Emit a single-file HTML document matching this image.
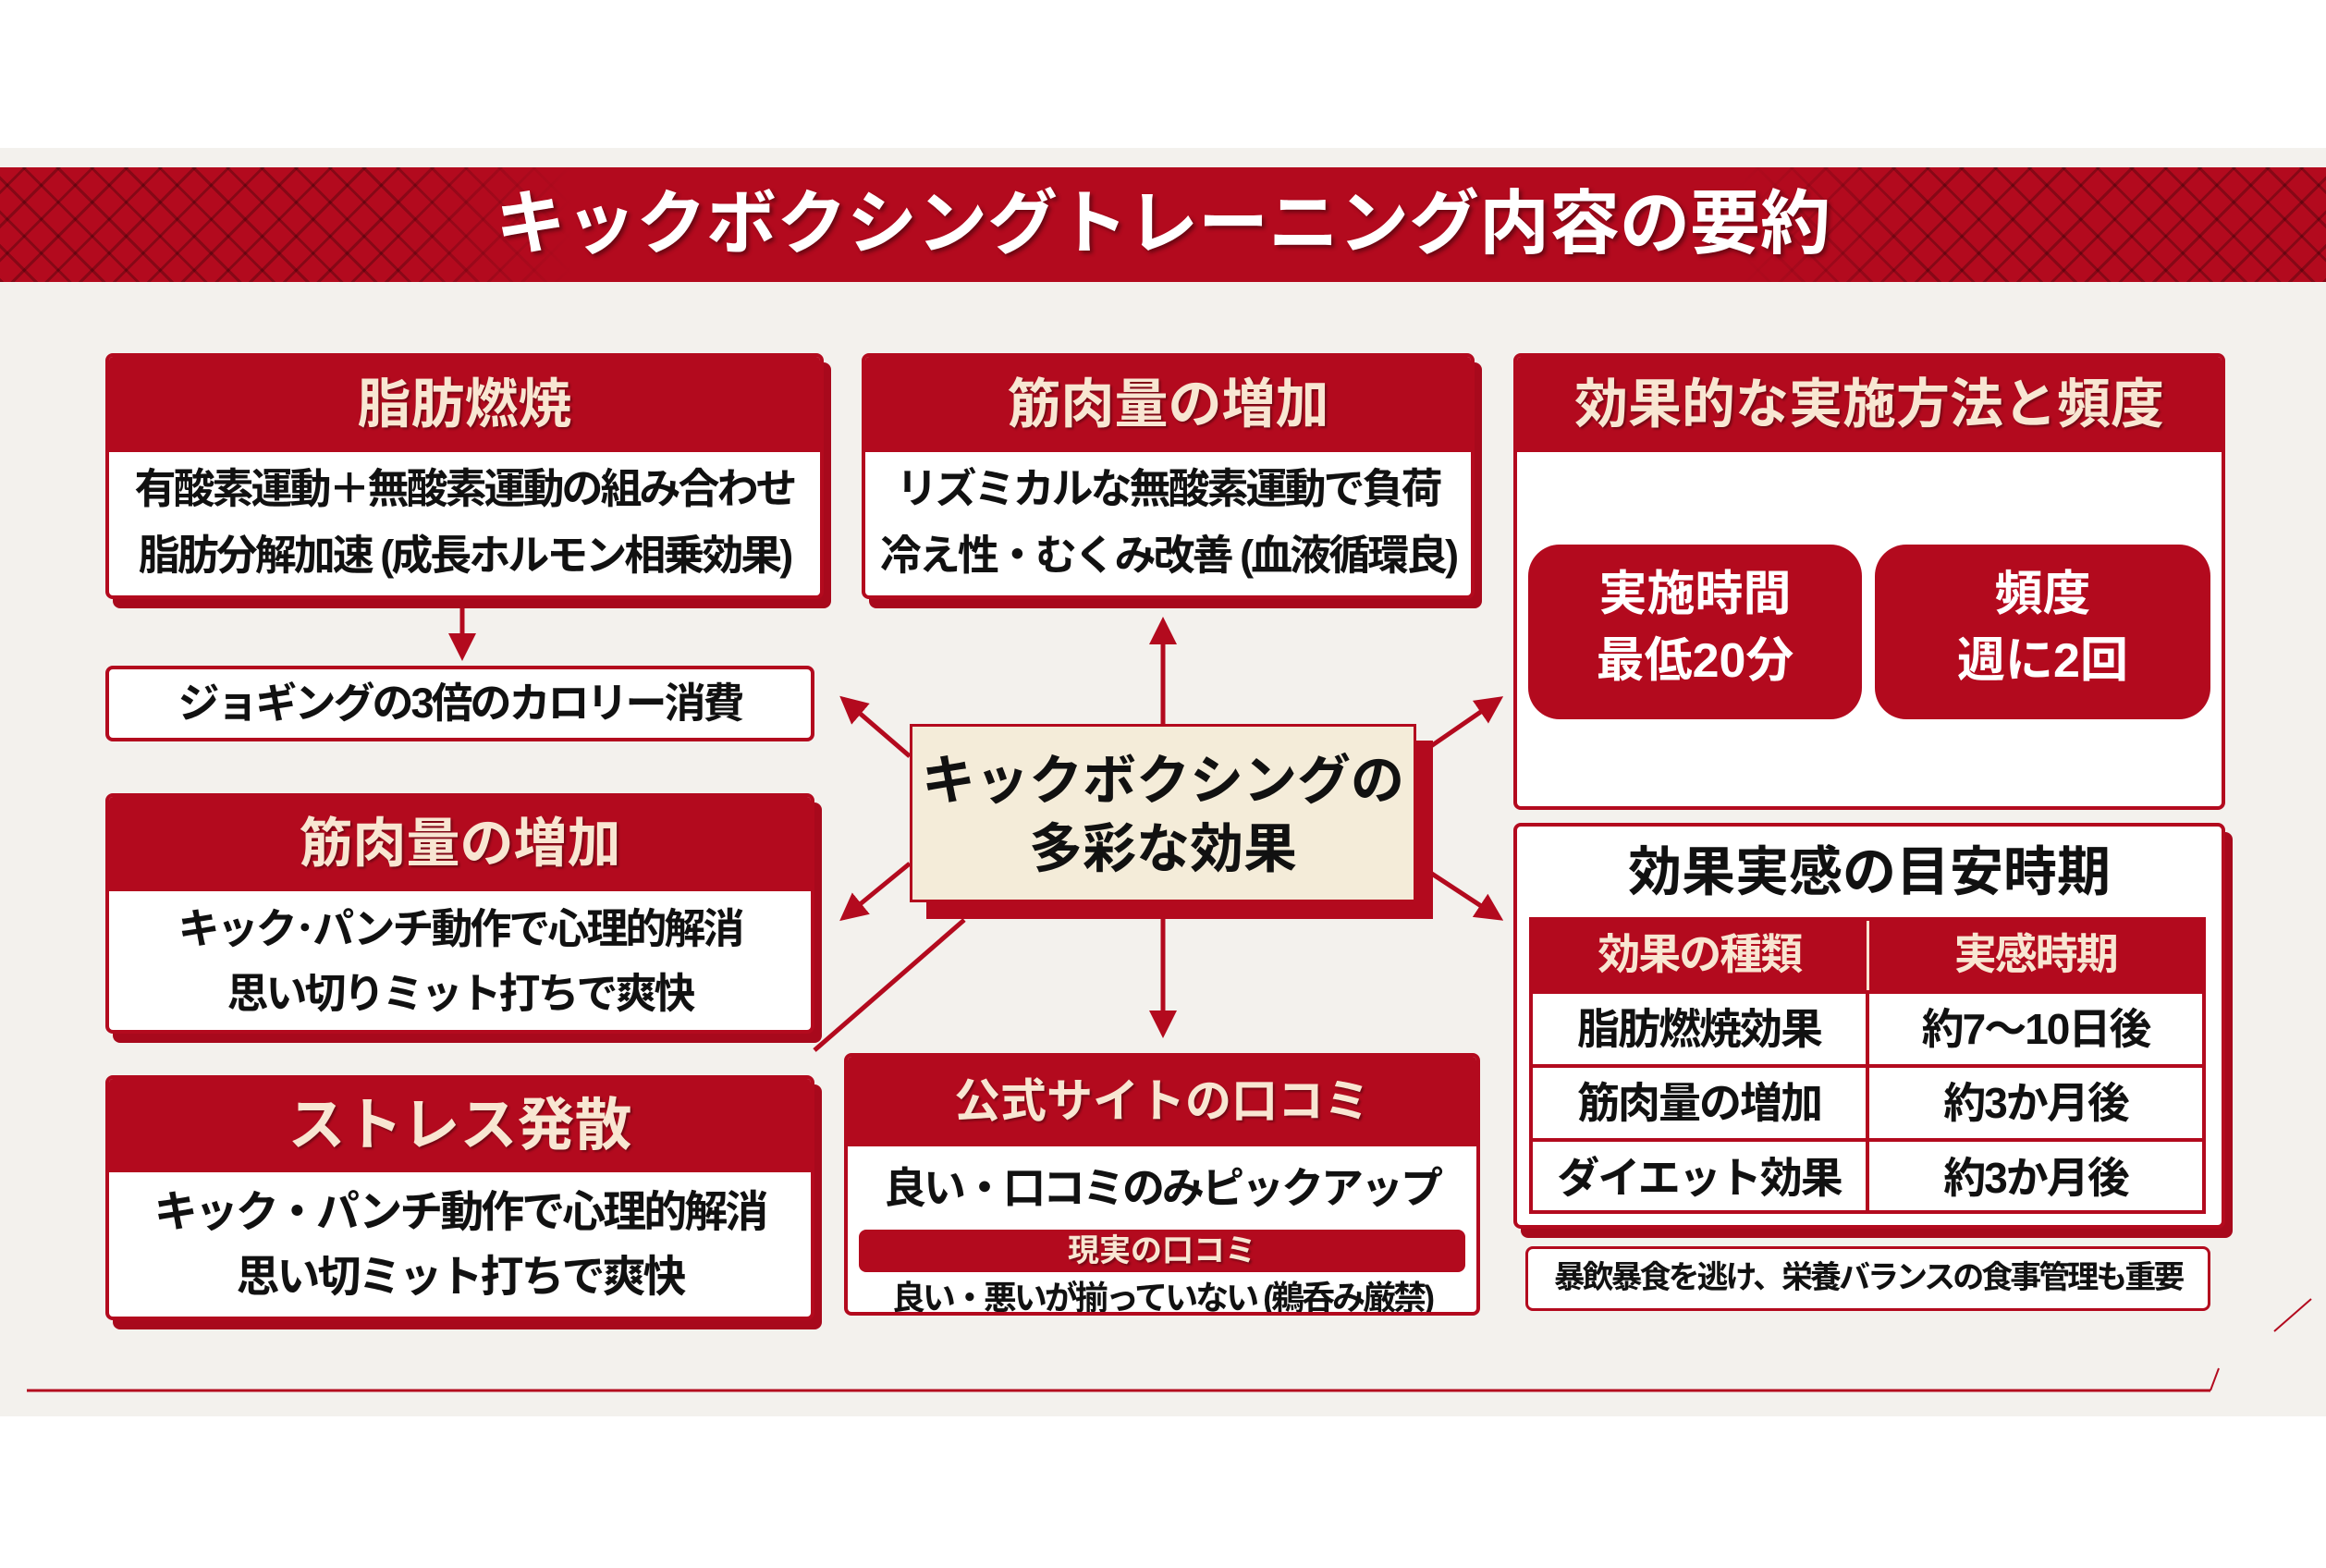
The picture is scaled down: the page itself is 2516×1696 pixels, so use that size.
<!DOCTYPE html>
<html><head><meta charset="utf-8"><style>
*{margin:0;padding:0;box-sizing:border-box}
body{width:2516px;height:1696px;background:#fff;position:relative;overflow:hidden;font-family:"Liberation Sans","Noto Sans CJK JP",sans-serif;font-weight:bold}
.a{position:absolute}
.box{position:absolute;background:#fff;border:4px solid #b30a1e;border-radius:8px;overflow:hidden;box-shadow:8px 10px 0 #a8091c}
.hd{background:#b30a1e;color:#f8e6d2;text-align:center;text-shadow:2px 2px 2px rgba(0,0,0,.35)}
.bd{color:#111;text-align:center;letter-spacing:-3px;white-space:nowrap}
.btn{position:absolute;background:#b30a1e;border-radius:34px;color:#fff;text-align:center;font-size:52px;line-height:72px;padding-top:18px}
.tr{position:absolute;left:0;width:100%;display:flex;border-top:4px solid #b30a1e}
.tr div{flex:1;text-align:center;font-size:46px;color:#111;letter-spacing:-2px}
</style></head><body>
<div class="a" style="left:0;top:160px;width:2516px;height:1372px;background:#f3f1ed"></div>
<div class="a" style="left:0;top:181px;width:2516px;height:124px;background:#b30a1e;
background-image:repeating-linear-gradient(45deg,rgba(0,0,0,.25) 0 3px,transparent 3px 26px),repeating-linear-gradient(-45deg,rgba(0,0,0,.25) 0 3px,transparent 3px 26px);"></div>
<div class="a" style="left:420px;top:181px;width:1660px;height:124px;background:linear-gradient(90deg,rgba(179,10,30,0),#b30a1e 12%,#b30a1e 88%,rgba(179,10,30,0))"></div>
<div class="a" style="left:0;top:181px;width:2516px;height:124px;color:#fff;text-align:center;font-size:76px;line-height:124px;text-shadow:3px 3px 4px rgba(0,0,0,.4)">キックボクシングトレーニング内容の要約</div>

<svg class="a" style="left:0;top:0" width="2516" height="1696">
<defs><marker id="m" markerWidth="6" markerHeight="6" refX="5" refY="3" orient="auto"><path d="M0,0L6,3L0,6z" fill="#b30a1e"/></marker></defs>
<g stroke="#b30a1e" stroke-width="5" fill="none" marker-end="url(#m)">
<line x1="500" y1="648" x2="500" y2="710"/>
<line x1="1258" y1="783" x2="1258" y2="672"/>
<line x1="1258" y1="976" x2="1258" y2="1118"/>
<line x1="984" y1="818" x2="912" y2="756"/>
<line x1="1532" y1="818" x2="1622" y2="756"/>
<line x1="984" y1="934" x2="912" y2="993"/>
<line x1="1532" y1="934" x2="1622" y2="993"/>
</g>
<line x1="1043" y1="995" x2="881" y2="1136" stroke="#b30a1e" stroke-width="5"/>
<line x1="29" y1="1504" x2="2391" y2="1504" stroke="#b30a1e" stroke-width="3"/>
<line x1="2391" y1="1504" x2="2400" y2="1480" stroke="#b30a1e" stroke-width="2"/>
<line x1="2460" y1="1440" x2="2500" y2="1405" stroke="#b30a1e" stroke-width="2"/>
</svg>

<div class="box" style="left:114px;top:382px;width:777px;height:266px">
<div class="hd" style="height:103px;font-size:58px;line-height:103px">脂肪燃焼</div>
<div class="bd" style="font-size:45px;line-height:72px;padding-top:4px">有酸素運動＋無酸素運動の組み合わせ<br>脂肪分解加速 (成長ホルモン相乗効果)</div></div>

<div class="box" style="left:114px;top:720px;width:767px;height:82px;box-shadow:none">
<div class="bd" style="font-size:45px;line-height:74px">ジョギングの3倍のカロリー消費</div></div>

<div class="box" style="left:932px;top:382px;width:663px;height:266px">
<div class="hd" style="height:103px;font-size:58px;line-height:103px">筋肉量の増加</div>
<div class="bd" style="font-size:45px;line-height:72px;padding-top:4px">リズミカルな無酸素運動で負荷<br>冷え性・むくみ改善 (血液循環良)</div></div>

<div class="box" style="left:1637px;top:382px;width:770px;height:494px;box-shadow:none">
<div class="hd" style="height:103px;font-size:58px;line-height:103px">効果的な実施方法と頻度</div></div>
<div class="btn" style="left:1653px;top:589px;width:361px;height:189px">実施時間<br>最低20分</div>
<div class="btn" style="left:2028px;top:589px;width:363px;height:189px">頻度<br>週に2回</div>

<div class="a" style="left:984px;top:783px;width:548px;height:193px;background:#f4ecd9;border:3px solid #b30a1e;box-shadow:18px 18px 0 #b30a1e;text-align:center;font-size:58px;line-height:74px;color:#111;padding-top:22px">キックボクシングの<br>多彩な効果</div>

<div class="box" style="left:114px;top:858px;width:767px;height:260px">
<div class="hd" style="height:102px;font-size:58px;line-height:102px">筋肉量の増加</div>
<div class="bd" style="font-size:45px;line-height:70px;padding-top:6px">キック･パンチ動作で心理的解消<br>思い切りミット打ちで爽快</div></div>

<div class="box" style="left:114px;top:1163px;width:767px;height:265px">
<div class="hd" style="height:101px;font-size:62px;line-height:101px">ストレス発散</div>
<div class="bd" style="font-size:47px;line-height:70px;padding-top:8px">キック・パンチ動作で心理的解消<br>思い切ミット打ちで爽快</div></div>

<div class="box" style="left:913px;top:1139px;width:688px;height:284px;box-shadow:none">
<div class="hd" style="height:97px;font-size:50px;line-height:97px">公式サイトの口コミ</div>
<div class="bd" style="font-size:46px;line-height:90px">良い・口コミのみピックアップ</div>
<div class="hd" style="margin:0 12px;height:46px;border-radius:8px;font-size:34px;line-height:46px">現実の口コミ</div>
<div class="bd" style="font-size:36px;line-height:56px">良い・悪いが揃っていない (鵜呑み厳禁)</div></div>

<div class="box" style="left:1637px;top:890px;width:770px;height:439px;background:#fff">
<div class="bd" style="font-size:58px;line-height:100px;padding-top:0;letter-spacing:0">効果実感の目安時期</div>
<div class="a" style="left:13px;top:98px;width:732px;height:321px;border:4px solid #b30a1e;background:#fff">
<div class="tr" style="top:0;height:75px;border-top:none;background:#b30a1e"><div style="color:#f8e6d2;line-height:72px;border-right:3px solid #f8e6d2">効果の種類</div><div style="color:#f8e6d2;line-height:72px">実感時期</div></div>
<div class="tr" style="top:75px;height:80px"><div style="line-height:76px;border-right:4px solid #b30a1e">脂肪燃焼効果</div><div style="line-height:76px">約7～10日後</div></div>
<div class="tr" style="top:155px;height:80px"><div style="line-height:76px;border-right:4px solid #b30a1e">筋肉量の増加</div><div style="line-height:76px">約3か月後</div></div>
<div class="tr" style="top:235px;height:82px"><div style="line-height:78px;border-right:4px solid #b30a1e">ダイエット効果</div><div style="line-height:78px">約3か月後</div></div>
</div></div>

<div class="box" style="left:1650px;top:1348px;width:741px;height:70px;box-shadow:none;border-width:3px">
<div class="bd" style="font-size:34px;line-height:62px;letter-spacing:-3px">暴飲暴食を逃け、栄養バランスの食事管理も重要</div></div>
</body></html>
